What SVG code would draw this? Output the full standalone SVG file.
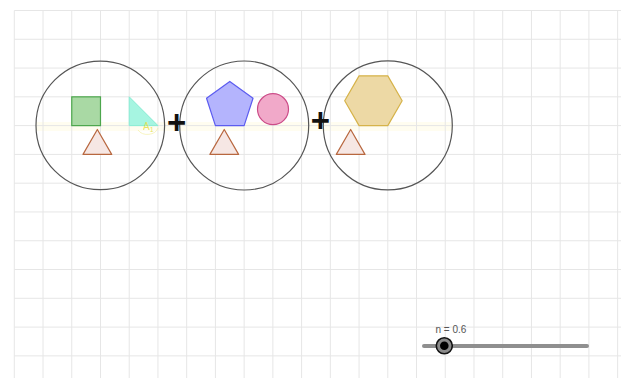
<svg xmlns="http://www.w3.org/2000/svg" width="621" height="378" viewBox="0 0 621 378">
<style>
.grid line{stroke:#e6e6e6;stroke-width:1}
.ring{fill:none;stroke:#555;stroke-width:1.2}
.tri{fill:#f6e7e4;stroke:#b8673f;stroke-width:1.2;stroke-linejoin:round}
.plus{font-family:"Liberation Sans",Arial,sans-serif;font-weight:bold;font-size:33px;fill:#111;text-anchor:middle}
.lbl{font-family:"Liberation Sans",Arial,sans-serif;font-size:10px;fill:#555}
</style>
<rect x="0" y="0" width="621" height="378" fill="#fff"/>
<rect x="36" y="122" width="416" height="9" fill="#fffbe6" opacity="0.6"/>
<g class="grid">
<line x1="14.3" y1="10.5" x2="14.3" y2="378"/><line x1="43.03" y1="10.5" x2="43.03" y2="378"/><line x1="71.76" y1="10.5" x2="71.76" y2="378"/><line x1="100.49" y1="10.5" x2="100.49" y2="378"/><line x1="129.22" y1="10.5" x2="129.22" y2="378"/><line x1="157.95" y1="10.5" x2="157.95" y2="378"/><line x1="186.68" y1="10.5" x2="186.68" y2="378"/><line x1="215.41" y1="10.5" x2="215.41" y2="378"/><line x1="244.14" y1="10.5" x2="244.14" y2="378"/><line x1="272.87" y1="10.5" x2="272.87" y2="378"/><line x1="301.6" y1="10.5" x2="301.6" y2="378"/><line x1="330.33" y1="10.5" x2="330.33" y2="378"/><line x1="359.06" y1="10.5" x2="359.06" y2="378"/><line x1="387.79" y1="10.5" x2="387.79" y2="378"/><line x1="416.52" y1="10.5" x2="416.52" y2="378"/><line x1="445.25" y1="10.5" x2="445.25" y2="378"/><line x1="473.98" y1="10.5" x2="473.98" y2="378"/><line x1="502.71" y1="10.5" x2="502.71" y2="378"/><line x1="531.44" y1="10.5" x2="531.44" y2="378"/><line x1="560.17" y1="10.5" x2="560.17" y2="378"/><line x1="588.9" y1="10.5" x2="588.9" y2="378"/><line x1="617.63" y1="10.5" x2="617.63" y2="378"/>
<line x1="14.3" y1="10.5" x2="621" y2="10.5"/><line x1="14.3" y1="39.28" x2="621" y2="39.28"/><line x1="14.3" y1="68.06" x2="621" y2="68.06"/><line x1="14.3" y1="96.84" x2="621" y2="96.84"/><line x1="14.3" y1="125.62" x2="621" y2="125.62"/><line x1="14.3" y1="154.4" x2="621" y2="154.4"/><line x1="14.3" y1="183.18" x2="621" y2="183.18"/><line x1="14.3" y1="211.96" x2="621" y2="211.96"/><line x1="14.3" y1="240.74" x2="621" y2="240.74"/><line x1="14.3" y1="269.52" x2="621" y2="269.52"/><line x1="14.3" y1="298.3" x2="621" y2="298.3"/><line x1="14.3" y1="327.08" x2="621" y2="327.08"/><line x1="14.3" y1="355.86" x2="621" y2="355.86"/>
</g>
<g id="set1">
<circle class="ring" cx="100.3" cy="125.4" r="64.3"/>
<rect x="71.76" y="96.84" width="28.73" height="28.78" fill="#a9d9a4" stroke="#4ca64c" stroke-width="1.2"/>
<polygon points="129.22,96.84 129.22,125.62 157.95,125.62" fill="#a6f5e1" stroke="#88ecd4" stroke-width="1"/>
<path d="M138,130 A11,9 0 0 0 158,128" fill="none" stroke="#f3ef9a" stroke-width="1" opacity="0.6"/>
<text x="143" y="130" font-family="Liberation Sans,Arial,sans-serif" font-size="10" fill="#e6e04a" opacity="0.85">A<tspan font-size="7" dy="2">1</tspan></text>
<polygon class="tri" points="83,154.4 111.7,154.4 97.35,129.5"/>
</g>
<g id="set2">
<circle class="ring" cx="244.2" cy="125.5" r="64.5"/>
<polygon points="215.41,125.62 244.14,125.62 253.02,98.3 229.78,81.4 206.53,98.3" fill="#b4b4fd" stroke="#5c5cf0" stroke-width="1.2" stroke-linejoin="round"/>
<circle cx="273" cy="109.2" r="15.5" fill="#f1a9c9" stroke="#cc4c88" stroke-width="1.2"/>
<polygon class="tri" points="209.9,154.4 238.6,154.4 224.25,129.5"/>
</g>
<g id="set3">
<circle class="ring" cx="387.8" cy="125.4" r="64.5"/>
<polygon points="359.06,125.62 387.79,125.62 402.16,100.74 387.79,75.86 359.06,75.86 344.7,100.74" fill="#edd9a5" stroke="#d6b34a" stroke-width="1.2" stroke-linejoin="round"/>
<polygon class="tri" points="336.3,154.4 365,154.4 350.65,129.5"/>
</g>
<g id="operators">
<text class="plus" x="176.6" y="133.8">+</text>
<text class="plus" x="320.3" y="132.3">+</text>
</g>
<g id="slider">
<line x1="424" y1="346" x2="587" y2="346" stroke="#8f8f8f" stroke-width="4" stroke-linecap="round"/>
<circle cx="444.3" cy="345.8" r="8" fill="#8a8a8a" stroke="#111" stroke-width="1.6"/>
<circle cx="444.3" cy="345.8" r="4.3" fill="#000"/>
<text class="lbl" x="435.5" y="333">n = 0.6</text>
</g>
</svg>
